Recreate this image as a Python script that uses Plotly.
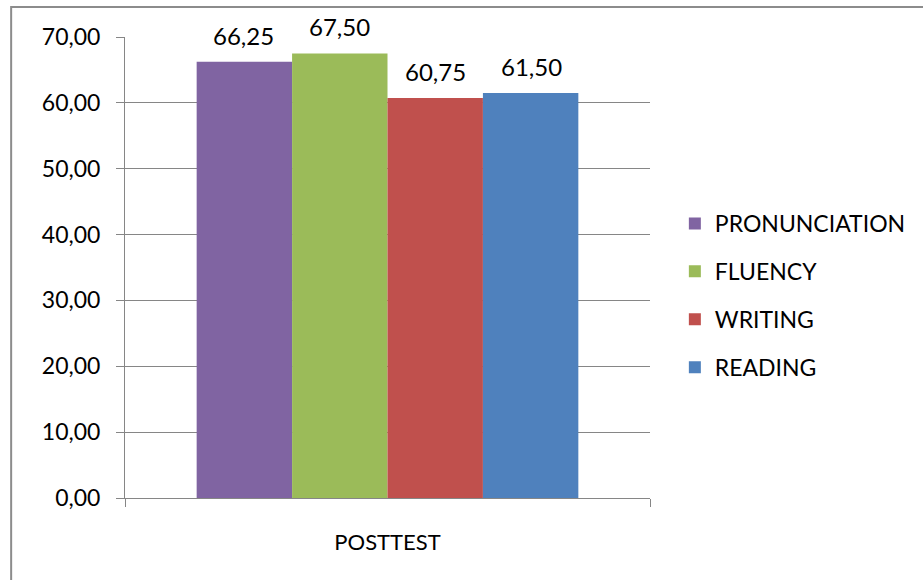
import plotly.graph_objects as go

categories = ["POSTTEST"]
series_names = ["PRONUNCIATION", "FLUENCY", "WRITING", "READING"]
series_values = [[66.25], [67.50], [60.75], [61.50]]
series_colors = ["#8064A2", "#9BBB59", "#C0504D", "#4F81BD"]
y_ticks = [0, 10, 20, 30, 40, 50, 60, 70]

FONT = "Lato"
W, H = 923, 580
L, R, T, B = 125, 270, 37, 82
pw, ph = W - L - R, H - T - B
BARGAP = 0.273
barw = (1 - BARGAP) * pw / len(series_names)

fig = go.Figure()
annotations = []
n = len(series_names)
for i, (name, vals, col) in enumerate(zip(series_names, series_values, series_colors)):
    fig.add_trace(go.Bar(
        x=categories, y=vals, name=name, marker=dict(color=col, line=dict(width=0)),
        legendgroup=name,
    ))
    for c, v in zip(categories, vals):
        annotations.append(dict(
            x=c, y=v, xref="x", yref="y", text=f"{v:.2f}".replace(".", ","),
            showarrow=False, xanchor="center", yanchor="bottom",
            xshift=(i - (n - 1) / 2) * barw, yshift=10,
            font=dict(family=FONT, size=24, color="#000000"),
        ))

def px_x(p):
    return (p - L) / pw

def px_y(p):
    return (H - B - p) / ph

fig.update_layout(
    width=W, height=H,
    margin=dict(l=L, r=R, t=T, b=B, pad=0),
    paper_bgcolor="white", plot_bgcolor="white",
    separators=",.",
    barmode="group", bargap=BARGAP, bargroupgap=0,
    font=dict(family=FONT, size=22, color="#000000"),
    showlegend=True,
    legend=dict(x=px_x(678), y=px_y(202), xanchor="left", yanchor="top",
                font=dict(family=FONT, size=23), tracegroupgap=15,
                bgcolor="rgba(0,0,0,0)"),
    annotations=annotations,
    xaxis=dict(showline=True, linecolor="#868686", linewidth=1,
               ticks="outside", tickson="boundaries", ticklen=8, tickcolor="#868686",
               tickfont=dict(family=FONT, size=22), showgrid=False,
               ticklabelstandoff=25),
    yaxis=dict(range=[0, 70], tickvals=y_ticks, tickformat=".2f",
               showline=True, linecolor="#868686", linewidth=1,
               ticks="outside", ticklen=8, tickcolor="#868686",
               gridcolor="#868686", gridwidth=1, zeroline=False,
               tickfont=dict(family=FONT, size=23), ticklabelstandoff=11),
    shapes=[dict(type="rect", xref="paper", yref="paper",
                 x0=px_x(10.5), x1=px_x(W + 20), y0=px_y(H + 20), y1=px_y(7),
                 line=dict(color="#8C8C8C", width=2), fillcolor="rgba(0,0,0,0)",
                 layer="below")],
)

fig.write_html("out.html")
